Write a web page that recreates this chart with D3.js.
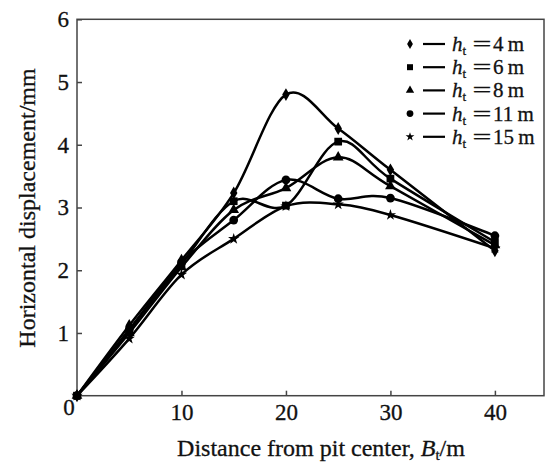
<!DOCTYPE html>
<html>
<head>
<meta charset="utf-8">
<script src="https://cdn.jsdelivr.net/npm/d3@7"></script>
<style>
  body { margin: 0; background: #fff; }
  svg { display: block; }
  text { font-family: "Liberation Serif", "DejaVu Serif", serif; fill: #111; stroke: #111; stroke-width: 0.3; }
</style>
</head>
<body>
<div id="viz"></div>
<script>
// distance from pit center (m)
const distances = [0, 5, 10, 15, 20, 25, 30, 40];
// horizontal displacement (mm) for each h_t
const h4 = [0, 1.12, 2.16, 3.23, 4.80, 4.26, 3.60, 2.31];
const h6 = [0, 1.05, 2.10, 3.10, 3.03, 4.05, 3.46, 2.45];
const h8 = [0, 1.00, 2.05, 2.96, 3.31, 3.80, 3.34, 2.40];
const h11 = [0, 1.05, 2.12, 2.80, 3.44, 3.14, 3.15, 2.55];
const h15 = [0, 0.91, 1.93, 2.50, 3.02, 3.05, 2.88, 2.35];
const seriesNames = ["4", "6", "8", "11", "15"];
const xTicks = [10, 20, 30, 40];
const yTicks = [1, 2, 3, 4, 5, 6];

const series = [
  { name: seriesNames[0], values: h4, symbol: d3.symbolDiamond, size: 48 },
  { name: seriesNames[1], values: h6, symbol: d3.symbolSquare, size: 60 },
  { name: seriesNames[2], values: h8, symbol: d3.symbolTriangle, size: 50 },
  { name: seriesNames[3], values: h11, symbol: d3.symbolCircle, size: 60 },
  { name: seriesNames[4], values: h15, symbol: d3.symbolStar, size: 40 }
];

const W = 548, H = 463;
const plotLeft = 77, plotRight = 544, plotTop = 19.3, plotBottom = 395.7;

const svg = d3.select("#viz").append("svg")
  .attr("width", W)
  .attr("height", H);

const x = d3.scaleLinear().domain([0, 44.7]).range([plotLeft, plotRight]);
const y = d3.scaleLinear().domain([0, 6]).range([plotBottom, plotTop]);

// frame
svg.append("rect")
  .attr("x", plotLeft).attr("y", plotTop)
  .attr("width", plotRight - plotLeft).attr("height", plotBottom - plotTop)
  .attr("fill", "none")
  .attr("stroke", "#444")
  .attr("stroke-width", 1.5);

const xAxis = svg.append("g")
  .attr("transform", `translate(0,${plotBottom})`)
  .call(d3.axisBottom(x).tickValues(xTicks).tickFormat(d3.format("d"))
    .tickSizeInner(-5).tickSizeOuter(0).tickPadding(8));
xAxis.select(".domain").remove();
xAxis.selectAll("line").attr("stroke", "#444").attr("stroke-width", 1.5);
xAxis.selectAll("text")
  .attr("font-family", "Liberation Serif")
  .attr("font-size", 23)
  .attr("fill", "#111");

const yAxis = svg.append("g")
  .attr("transform", `translate(${plotLeft},0)`)
  .call(d3.axisLeft(y).tickValues(yTicks).tickFormat(d3.format("d"))
    .tickSizeInner(-5).tickSizeOuter(0).tickPadding(8));
yAxis.select(".domain").remove();
yAxis.selectAll("line").attr("stroke", "#444").attr("stroke-width", 1.5);
yAxis.selectAll("text")
  .attr("font-family", "Liberation Serif")
  .attr("font-size", 23)
  .attr("fill", "#111");

// shared origin label
svg.append("text")
  .attr("x", x(0) - 8)
  .attr("y", y(0) + 19)
  .attr("text-anchor", "middle")
  .attr("font-size", 23)
  .text("0");

// curves
const line = d3.line()
  .x((d, i) => x(distances[i]))
  .y(d => y(d))
  .curve(d3.curveCardinal.tension(0));

const plot = svg.append("g");

series.forEach(s => {
  plot.append("path")
    .datum(s.values)
    .attr("d", line)
    .attr("fill", "none")
    .attr("stroke", "#000")
    .attr("stroke-width", 2.5);
});

series.forEach(s => {
  plot.append("g")
    .selectAll("path")
    .data(s.values)
    .enter().append("path")
    .attr("transform", (d, i) => `translate(${x(distances[i])},${y(d)})`)
    .attr("d", d3.symbol().type(s.symbol).size(s.size))
    .attr("fill", "#000");
});

// legend
const legend = svg.append("g");
series.forEach((s, i) => {
  const ly = 44 + i * 23.2;
  legend.append("path")
    .attr("transform", `translate(410,${ly})`)
    .attr("d", d3.symbol().type(s.symbol).size(s.size * 0.6))
    .attr("fill", "#000");
  legend.append("line")
    .attr("x1", 423).attr("x2", 445)
    .attr("y1", ly).attr("y2", ly)
    .attr("stroke", "#000")
    .attr("stroke-width", 2.2);
  const t = legend.append("text")
    .attr("x", 452)
    .attr("y", ly + 7)
    .attr("font-size", 21);
  t.append("tspan").attr("font-style", "italic").text("h");
  t.append("tspan").attr("font-size", 13).attr("dy", 4).text("t");
  legend.append("text")
    .attr("x", 482)
    .attr("y", ly + 7)
    .attr("text-anchor", "middle")
    .attr("font-size", 21)
    .attr("transform", `translate(482,0) scale(1.6,1) translate(-482,0)`)
    .text("=");
  legend.append("text")
    .attr("x", 493)
    .attr("y", ly + 7)
    .attr("font-size", 21)
    .text(`${s.name}\u2009m`);
});

// axis titles
const xt = svg.append("text")
  .attr("x", 321)
  .attr("y", 456)
  .attr("text-anchor", "middle")
  .attr("font-size", 24);
xt.append("tspan").text("Distance from pit center, ");
xt.append("tspan").attr("font-style", "italic").text("B");
xt.append("tspan").attr("font-size", 15).attr("dy", 4).text("t");
xt.append("tspan").attr("dy", -4).text("/m");

svg.append("text")
  .attr("transform", `translate(35,208) rotate(-90)`)
  .attr("text-anchor", "middle")
  .attr("font-size", 24)
  .text("Horizontal displacement/mm");
</script>
</body>
</html>
